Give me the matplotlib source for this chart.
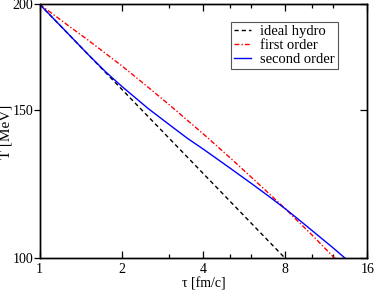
import matplotlib
matplotlib.use("Agg")
import matplotlib.pyplot as plt
from matplotlib.ticker import FixedLocator, NullFormatter, NullLocator

plt.rcParams['font.family'] = ['Liberation Serif', 'DejaVu Serif']

# data
tau_ideal = [1.0, 8.0]
T_ideal = [200.0, 100.0]

tau_first = [1.0, 1.25, 1.5, 2.0, 2.5, 3.0, 4.0, 5.0, 6.0, 7.0, 8.0, 9.0, 10.0, 11.0, 12.17]
T_first = [200.0, 189.6, 181.6, 169.2, 159.6, 152.0, 140.4, 131.7, 124.8, 119.2, 114.5, 110.3, 106.7, 103.4, 100.0]

tau_second = [1.0, 1.25, 1.5, 1.75, 2.0, 2.5, 3.0, 3.5, 4.0, 5.0, 6.0, 7.0, 8.0, 9.0, 10.0, 11.0, 12.0, 13.3]
T_second = [200.0, 185.7, 174.7, 166.3, 160.0, 150.6, 144.0, 138.7, 134.7, 128.0, 122.7, 118.3, 114.5, 111.05, 108.0, 105.3, 102.9, 100.0]

x_major = [1, 2, 4, 8, 16]
x_minor = [3, 5, 6, 10, 12]
y_major = [100, 150, 200]

fig = plt.figure(figsize=(3.74, 2.91), dpi=100)
ax = fig.add_axes([0.106, 0.1117, 0.876, 0.8735])

ax.plot(tau_ideal, T_ideal, color='black', lw=1.0, dashes=(3.0, 2.2), label='ideal hydro')
ax.plot(tau_first, T_first, color='#ff0000', lw=1.0, dashes=(3.5, 1.5, 1.0, 1.5), label='first order')
ax.plot(tau_second, T_second, color='#0000ff', lw=1.0, label='second order')

ax.set_xscale('log')
ax.set_yscale('log')
ax.set_xlim(1, 16)
ax.set_ylim(100, 200)

ax.xaxis.set_major_locator(FixedLocator(x_major))
ax.xaxis.set_minor_locator(FixedLocator(x_minor))
ax.set_xticklabels([str(v) for v in x_major])
ax.xaxis.set_minor_formatter(NullFormatter())
ax.yaxis.set_major_locator(FixedLocator(y_major))
ax.yaxis.set_minor_locator(NullLocator())
ax.set_yticklabels([str(v) for v in y_major])
ax.yaxis.set_minor_formatter(NullFormatter())

ax.tick_params(axis='x', which='both', direction='in', top=True, bottom=True, labelsize=10, pad=3, width=0.9)
ax.tick_params(axis='x', which='major', length=5)
ax.tick_params(axis='x', which='minor', length=3)
ax.tick_params(axis='y', which='major', direction='out', length=4, left=True, right=False, labelsize=10, pad=0.5, width=0.9)
# right side inward ticks
ax2 = ax.twinx()
ax2.set_yscale('log')
ax2.set_ylim(100, 200)
ax2.yaxis.set_major_locator(FixedLocator(y_major))
ax2.yaxis.set_minor_locator(NullLocator())
ax2.tick_params(axis='y', which='major', direction='in', length=5, width=0.9, labelright=False)

for a in (ax, ax2):
    for s in a.spines.values():
        s.set_linewidth(1.0)

ax.set_xlabel('τ [fm/c]', fontsize=10, labelpad=1)
ax.set_ylabel('T [MeV]', fontsize=11, labelpad=0)

leg = ax.legend(loc='upper right', bbox_to_anchor=(0.91, 0.93), fontsize=10.5,
                frameon=True, fancybox=False, edgecolor='#555555', framealpha=1,
                handlelength=1.2, handletextpad=0.6, borderpad=0.2, labelspacing=0.05,
                borderaxespad=0)
leg.get_frame().set_linewidth(0.8)

fig.savefig('out.png', dpi=100)
